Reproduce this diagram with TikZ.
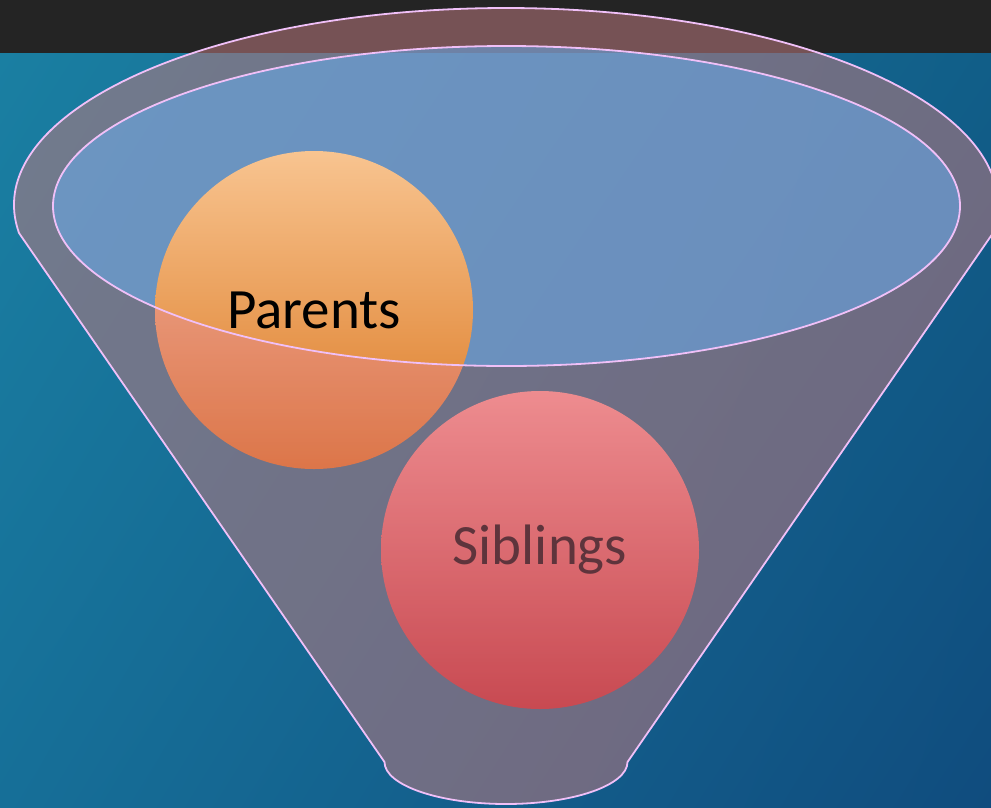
\documentclass[tikz,border=0pt]{standalone}
\usepackage{fontspec}
\setmainfont{Carlito}
\usetikzlibrary{shadings}
\definecolor{barcol}{RGB}{36,36,36}
\definecolor{bgul}{RGB}{26,127,162}
\definecolor{bgur}{RGB}{17,94,136}
\definecolor{bgll}{RGB}{22,111,152}
\definecolor{bglr}{RGB}{16,76,126}
\definecolor{rimcol}{RGB}{240,192,248}
\definecolor{bodycol}{RGB}{165,128,67}
\definecolor{mouthcol}{RGB}{123,166,244}
\definecolor{veilcol}{RGB}{225,110,230}
\definecolor{partop}{RGB}{248,196,144}
\definecolor{parmid}{RGB}{240,160,80}
\definecolor{parbot}{RGB}{219,120,34}
\definecolor{sibtop}{RGB}{241,148,122}
\definecolor{sibmid}{RGB}{229,97,78}
\definecolor{sibbot}{RGB}{194,65,45}
\definecolor{sibtext}{RGB}{62,38,18}
\begin{document}
\begin{tikzpicture}[x=1pt, y=-1pt, line cap=round, line join=round]
			\tikzset{ball/.style={circle, minimum size=318pt, inner sep=0pt, font=\fontsize{57}{60}\selectfont},
				rim/.style={draw=rimcol, line width=1.8pt}}
			\useasboundingbox (0,0) rectangle (991,807);
			\shade[upper left=bgul, upper right=bgur, lower left=bgll, lower right=bglr] (0,53) rectangle (991,807);
			\fill[barcol] (0,0) rectangle (991,53);
			% funnel outline points
			\path (506,205) ++(171.8:492 and 197) coordinate (tl);
			\coordinate (br) at (627.5,762);
			\def\funnel{(tl) arc[start angle=171.8, end angle=368.2, x radius=492, y radius=197] -- (br)
				arc[start angle=0, end angle=180, x radius=121.5, y radius=42] -- cycle}
			\def\mouth{(506.5,206) ellipse[x radius=453.5, y radius=160]}
			\fill[bodycol, fill opacity=0.44] \funnel;
			\fill[mouthcol, fill opacity=0.6] \mouth;
			\node[ball, top color=partop, middle color=parmid, bottom color=parbot] (parents) at (314,310) {Parents};
			\node[ball, top color=sibtop, middle color=sibmid, bottom color=sibbot, text=sibtext] (siblings) at (540,550) {Siblings};
			\fill[veilcol, fill opacity=0.2, even odd rule] \funnel \mouth;
			\draw[rim] \funnel;
			\draw[rim] \mouth;
	\end{tikzpicture}
\end{document}
